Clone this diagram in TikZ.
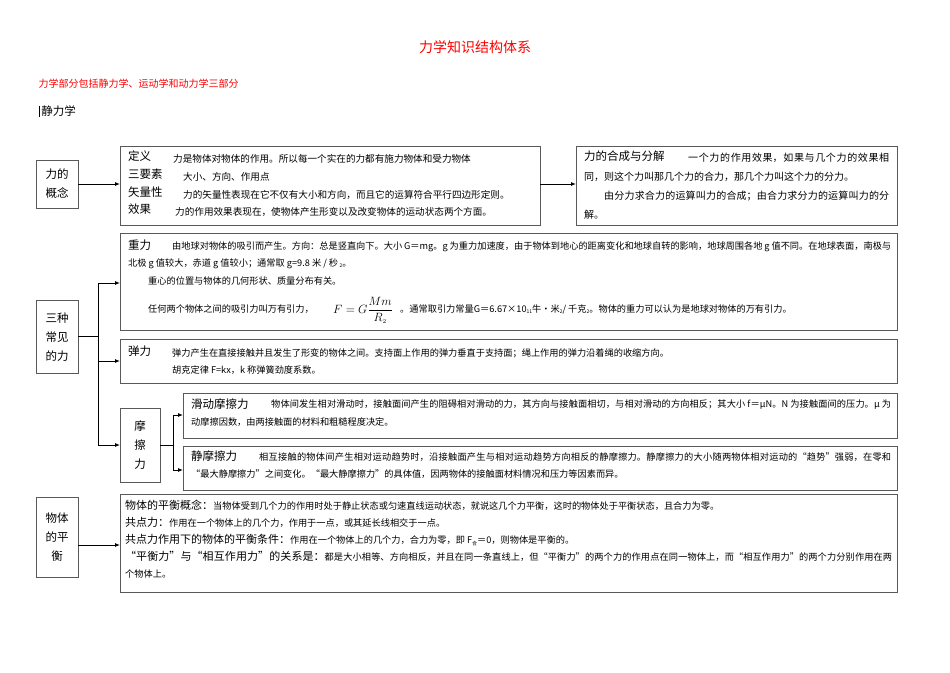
\documentclass[tikz,border=0pt]{standalone}
\usepackage{fontspec}
\setmainfont{Liberation Serif}
\newfontfamily\cjk{Noto Sans CJK SC}
\XeTeXlinebreaklocale "zh"
\XeTeXlinebreakskip = 0pt plus 1pt
\usetikzlibrary{arrows.meta}
\begin{document}
\begin{tikzpicture}[x=1pt,y=-1pt,
  bx/.style={draw=black!65,line width=0.8pt},
  conn/.style={line width=0.9pt,-{Latex[length=5pt,width=4pt]}},
  ln/.style={line width=0.9pt},
  tx/.style={anchor=north west,inner sep=0pt,align=justify,font=\cjk\fontsize{9.2}{17.5}\selectfont},
  hd/.style={anchor=north west,inner sep=0pt,font=\cjk\fontsize{11.5}{13}\selectfont},
  lbl/.style={align=center,font=\cjk\fontsize{11.5}{19}\selectfont}]
\useasboundingbox (0,0) rectangle (950,672);
\node[font=\cjk\fontsize{14}{16}\selectfont,text=red] (title) at (475,47) {力学知识结构体系};
\node[anchor=west,font=\cjk\fontsize{10}{12}\selectfont,text=red] (sub) at (35,84) {力学部分包括静力学、运动学和动力学三部分};
\node[anchor=west,font=\cjk\fontsize{11.5}{13}\selectfont] (stat) at (35,111) {\rule[-1pt]{1pt}{11pt}\,静力学};

% force concept
\draw[bx] (36,160) rectangle (78,208);
\node[lbl] (lgn) at (57,184) {力的\\概念};
\draw[bx] (120,146) rectangle (540,225);
\coordinate (dy) at (120,184);
\node[hd] (d1) at (128,151) {定义};
\node[tx,font=\cjk\fontsize{9.6}{12}\selectfont] at (173,154) {力是物体对物体的作用。所以每一个实在的力都有施力物体和受力物体};
\node[hd] at (128,169) {三要素};
\node[tx,font=\cjk\fontsize{9.6}{12}\selectfont] at (183,172) {大小、方向、作用点};
\node[hd] at (128,187) {矢量性};
\node[tx,font=\cjk\fontsize{9.6}{12}\selectfont] at (183,190) {力的矢量性表现在它不仅有大小和方向，而且它的运算符合平行四边形定则。};
\node[hd] at (128,204) {效果};
\node[tx,font=\cjk\fontsize{9.6}{12}\selectfont] at (175,207) {力的作用效果表现在，使物体产生形变以及改变物体的运动状态两个方面。};
\draw[bx] (576,146) rectangle (897,225);
\coordinate (hc) at (576,184);
\node[hd] at (584,151) {力的合成与分解};
\node[tx,text width=305pt,font=\cjk\fontsize{10}{19}\selectfont] at (584,153) {\hspace*{104pt}一个力的作用效果，如果与几个力的效果相同，则这个力叫那几个力的合力，那几个力叫这个力的分力。\\\hspace*{20pt}由分力求合力的运算叫力的合成；由合力求分力的运算叫力的分解。};
\draw[conn] (78,184) -- (dy);
\draw[conn] (540,184) -- (hc);

% three forces
\draw[bx] (36,300) rectangle (78,373);
\node[lbl] (l3) at (57,337) {三种\\常见\\的力};
\draw[bx] (120,233) rectangle (897,330);
\node[hd] at (128,240) {重力};
\node[tx,text width=763pt] at (128,241) {\hspace*{44pt}由地球对物体的吸引而产生。方向：总是竖直向下。大小 G＝mg。g 为重力加速度，由于物体到地心的距离变化和地球自转的影响，地球周围各地 g 值不同。在地球表面，南极与北极 g 值较大，赤道 g 值较小；通常取 g=9.8 米 / 秒\,\raisebox{-1pt}{\tiny 2}。\\\hspace*{20pt}重心的位置与物体的几何形状、质量分布有关。};
\node[tx] at (148,305) {任何两个物体之间的吸引力叫万有引力，};
\node[anchor=west,inner sep=0pt,font=\fontsize{13}{15}\selectfont] at (333,310) {$\displaystyle F=G\frac{Mm}{R_{\scriptscriptstyle 2}}$};
\node[tx] at (400,305) {。通常取引力常量G＝6.67×10\raisebox{-1pt}{\tiny 11}牛·米\raisebox{-1pt}{\tiny 2}/ 千克\raisebox{-1pt}{\tiny 2}。物体的重力可以认为是地球对物体的万有引力。};
\draw[bx] (120,339) rectangle (897,383);
\node[hd] at (128,346) {弹力};
\node[tx] at (172,348) {弹力产生在直接接触并且发生了形变的物体之间。支持面上作用的弹力垂直于支持面；绳上作用的弹力沿着绳的收缩方向。};
\node[tx] at (172,366) {胡克定律 F=kx，k 称弹簧劲度系数。};
\draw[bx] (120,408) rectangle (160,482);
\node[lbl] (lmc) at (140,445) {摩\\擦\\力};
\draw[bx] (183,393) rectangle (897,438);
\node[hd] at (191,399) {滑动摩擦力};
\node[tx,text width=700pt] at (191,400) {\hspace*{80pt}物体间发生相对滑动时，接触面间产生的阻碍相对滑动的力，其方向与接触面相切，与相对滑动的方向相反；其大小 f＝μN。N 为接触面间的压力。μ 为动摩擦因数，由两接触面的材料和粗糙程度决定。};
\draw[bx] (183,446) rectangle (897,490);
\node[hd] at (191,451) {静摩擦力};
\node[tx,text width=700pt] at (191,452) {\hspace*{68pt}相互接触的物体间产生相对运动趋势时，沿接触面产生与相对运动趋势方向相反的静摩擦力。静摩擦力的大小随两物体相对运动的“趋势”强弱，在零和“最大静摩擦力”之间变化。“最大静摩擦力”的具体值，因两物体的接触面材料情况和压力等因素而异。};
\draw[ln] (78,336) -- (98,336);
\draw[ln] (98,283) -- (98,445);
\draw[conn] (98,283) -- (120,283);
\draw[conn] (98,361) -- (120,361);
\draw[conn] (98,445) -- (120,445);
\draw[ln] (160,445) -- (173,445);
\draw[ln] (173,415) -- (173,470);
\draw[conn] (173,415) -- (183,415);
\draw[conn] (173,470) -- (183,470);

% equilibrium
\draw[bx] (36,497) rectangle (78,577);
\node[lbl] (lph) at (57,537) {物体\\的平\\衡};
\draw[bx] (120,494) rectangle (897,592);
\node[tx,text width=767pt,font=\cjk\fontsize{9.2}{17}\selectfont] at (125,500) {{\fontsize{11}{17}\selectfont 物体的平衡概念：}当物体受到几个力的作用时处于静止状态或匀速直线运动状态，就说这几个力平衡，这时的物体处于平衡状态，且合力为零。\\
{\fontsize{11}{17}\selectfont 共点力：}作用在一个物体上的几个力，作用于一点，或其延长线相交于一点。\\
{\fontsize{11}{17}\selectfont 共点力作用下的物体的平衡条件：}作用在一个物体上的几个力，合力为零，即 F\raisebox{-2pt}{\tiny 合}＝0，则物体是平衡的。\\
{\fontsize{11}{17}\selectfont ~“平衡力”与“相互作用力”的关系是：}都是大小相等、方向相反，并且在同一条直线上，但“平衡力”的两个力的作用点在同一物体上，而“相互作用力”的两个力分别作用在两个物体上。};
\draw[conn] (78,545) -- (120,545);
\end{tikzpicture}
\end{document}
